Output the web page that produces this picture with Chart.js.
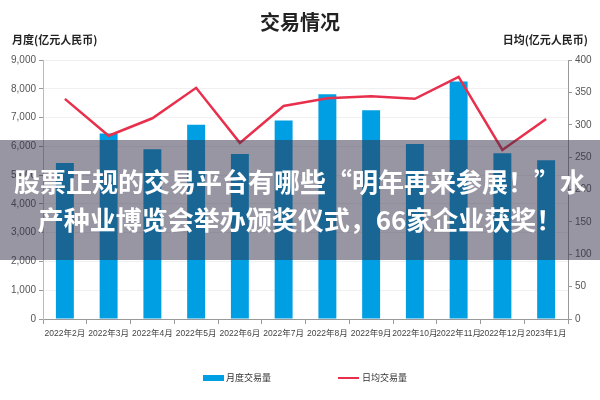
<!DOCTYPE html>
<html>
<head>
<meta charset="utf-8">
<script src="https://cdn.jsdelivr.net/npm/chart.js@4/dist/chart.umd.min.js"></script>
<style>
  html, body { margin: 0; padding: 0; background: #fff; }
  #wrap { position: relative; width: 600px; height: 400px; }
  #overlay {
    position: absolute; left: 0; top: 140px; width: 600px; height: 120px;
    background: rgba(50, 45, 70, 0.5);
    color: #fff; font-family: 'Noto Sans CJK SC', sans-serif; font-weight: bold;
    font-size: 26px; line-height: 38px; text-align: center;
    display: flex; flex-direction: column; justify-content: center;
  }
</style>
</head>
<body>
<div id="wrap">
  <canvas id="chart" width="600" height="400"></canvas>
  <div id="overlay">
    <div>股票正规的交易平台有哪些“明年再来参展！”水</div>
    <div>产种业博览会举办颁奖仪式，66家企业获奖！</div>
  </div>
</div>
<script>
// data
var months = ["2022年2月", "2022年3月", "2022年4月", "2022年5月", "2022年6月", "2022年7月",
              "2022年8月", "2022年9月", "2022年10月", "2022年11月", "2022年12月", "2023年1月"];
var monthly_volume = [5420, 6450, 5900, 6750, 5730, 6900, 7810, 7250, 6080, 8250, 5760, 5520];
var daily_volume = [340, 283, 310, 357, 272, 329, 341, 344, 340, 374, 261, 309];

var tickFont = { family: "'Liberation Sans Narrow', 'Liberation Sans', 'Noto Sans CJK SC', sans-serif", size: 10 };
var xTickFont = { family: "'Liberation Sans Narrow', 'Liberation Sans', 'Noto Sans CJK SC', sans-serif", size: 8.5 };

// axis titles above the two y axes, and the bottom legend
var extras = {
    id: "extras",
    afterDraw: function (chart) {
        var ctx = chart.ctx;
        ctx.save();
        ctx.fillStyle = "#222";
        ctx.font = "bold 11px 'Noto Sans CJK SC', sans-serif";
        ctx.textBaseline = "middle";
        ctx.textAlign = "left";
        ctx.fillText("月度(亿元人民币)", 12, 40);
        ctx.textAlign = "right";
        ctx.fillText("日均(亿元人民币)", 588, 40);

        var ds = chart.data.datasets;
        var y = 378;
        ctx.font = "9px 'Noto Sans CJK SC', sans-serif";
        ctx.textAlign = "left";
        // bar item
        ctx.fillStyle = ds[0].backgroundColor;
        ctx.fillRect(203, y - 3, 21, 6);
        ctx.fillStyle = "#333";
        ctx.fillText(ds[0].label, 226, y);
        // line item
        ctx.strokeStyle = ds[1].borderColor;
        ctx.lineWidth = 2;
        ctx.beginPath();
        ctx.moveTo(338, y);
        ctx.lineTo(359, y);
        ctx.stroke();
        ctx.fillText(ds[1].label, 362, y);
        ctx.restore();
    }
};

var ctx = document.getElementById("chart").getContext("2d");
const config = {
    type: "bar",
    data: {
        labels: months,
        datasets: [
            {
                type: "bar",
                label: "月度交易量",
                data: monthly_volume,
                backgroundColor: "#009fe3",
                categoryPercentage: 1.0,
                barPercentage: 0.41,
                yAxisID: "y",
                order: 2
            },
            {
                type: "line",
                label: "日均交易量",
                data: daily_volume,
                borderColor: "#e8304c",
                backgroundColor: "#e8304c",
                borderWidth: 2.5,
                pointRadius: 0,
                tension: 0,
                yAxisID: "y1",
                order: 1
            }
        ]
    },
    options: {
        responsive: false,
        animation: false,
        layout: { padding: 0 },
        plugins: {
            legend: { display: false },
            tooltip: { enabled: false },
            title: {
                display: true,
                text: "交易情况",
                color: "#222",
                font: { family: "'Noto Sans CJK SC', sans-serif", size: 20, weight: "bold", lineHeight: 1.2 },
                padding: { top: 10, bottom: 26 }
            }
        },
        scales: {
            x: {
                grid: { offset: true, drawOnChartArea: false, tickLength: 5, color: "#999" },
                border: { color: "#999" },
                ticks: { font: xTickFont, color: "#444", autoSkip: false, maxRotation: 0, padding: 5 },
                afterFit: function (scale) { scale.height = 81; }
            },
            y: {
                position: "left",
                min: 0,
                max: 9000,
                grid: { color: "#f0f0f0", tickColor: "#999", tickLength: 4 },
                border: { color: "#bbb" },
                ticks: {
                    stepSize: 1000,
                    font: tickFont,
                    color: "#555",
                    padding: 3,
                    callback: function (v) { return v.toLocaleString("en-US"); }
                },
                afterFit: function (scale) { scale.width = 43; }
            },
            y1: {
                position: "right",
                min: 0,
                max: 400,
                grid: { drawOnChartArea: false, tickColor: "#999", tickLength: 4 },
                border: { color: "#999" },
                ticks: { stepSize: 50, font: tickFont, color: "#555", padding: 3 },
                afterFit: function (scale) { scale.width = 32; }
            }
        }
    },
    plugins: [extras]
};

var myChart = new Chart(ctx, config);
</script>
</body>
</html>
